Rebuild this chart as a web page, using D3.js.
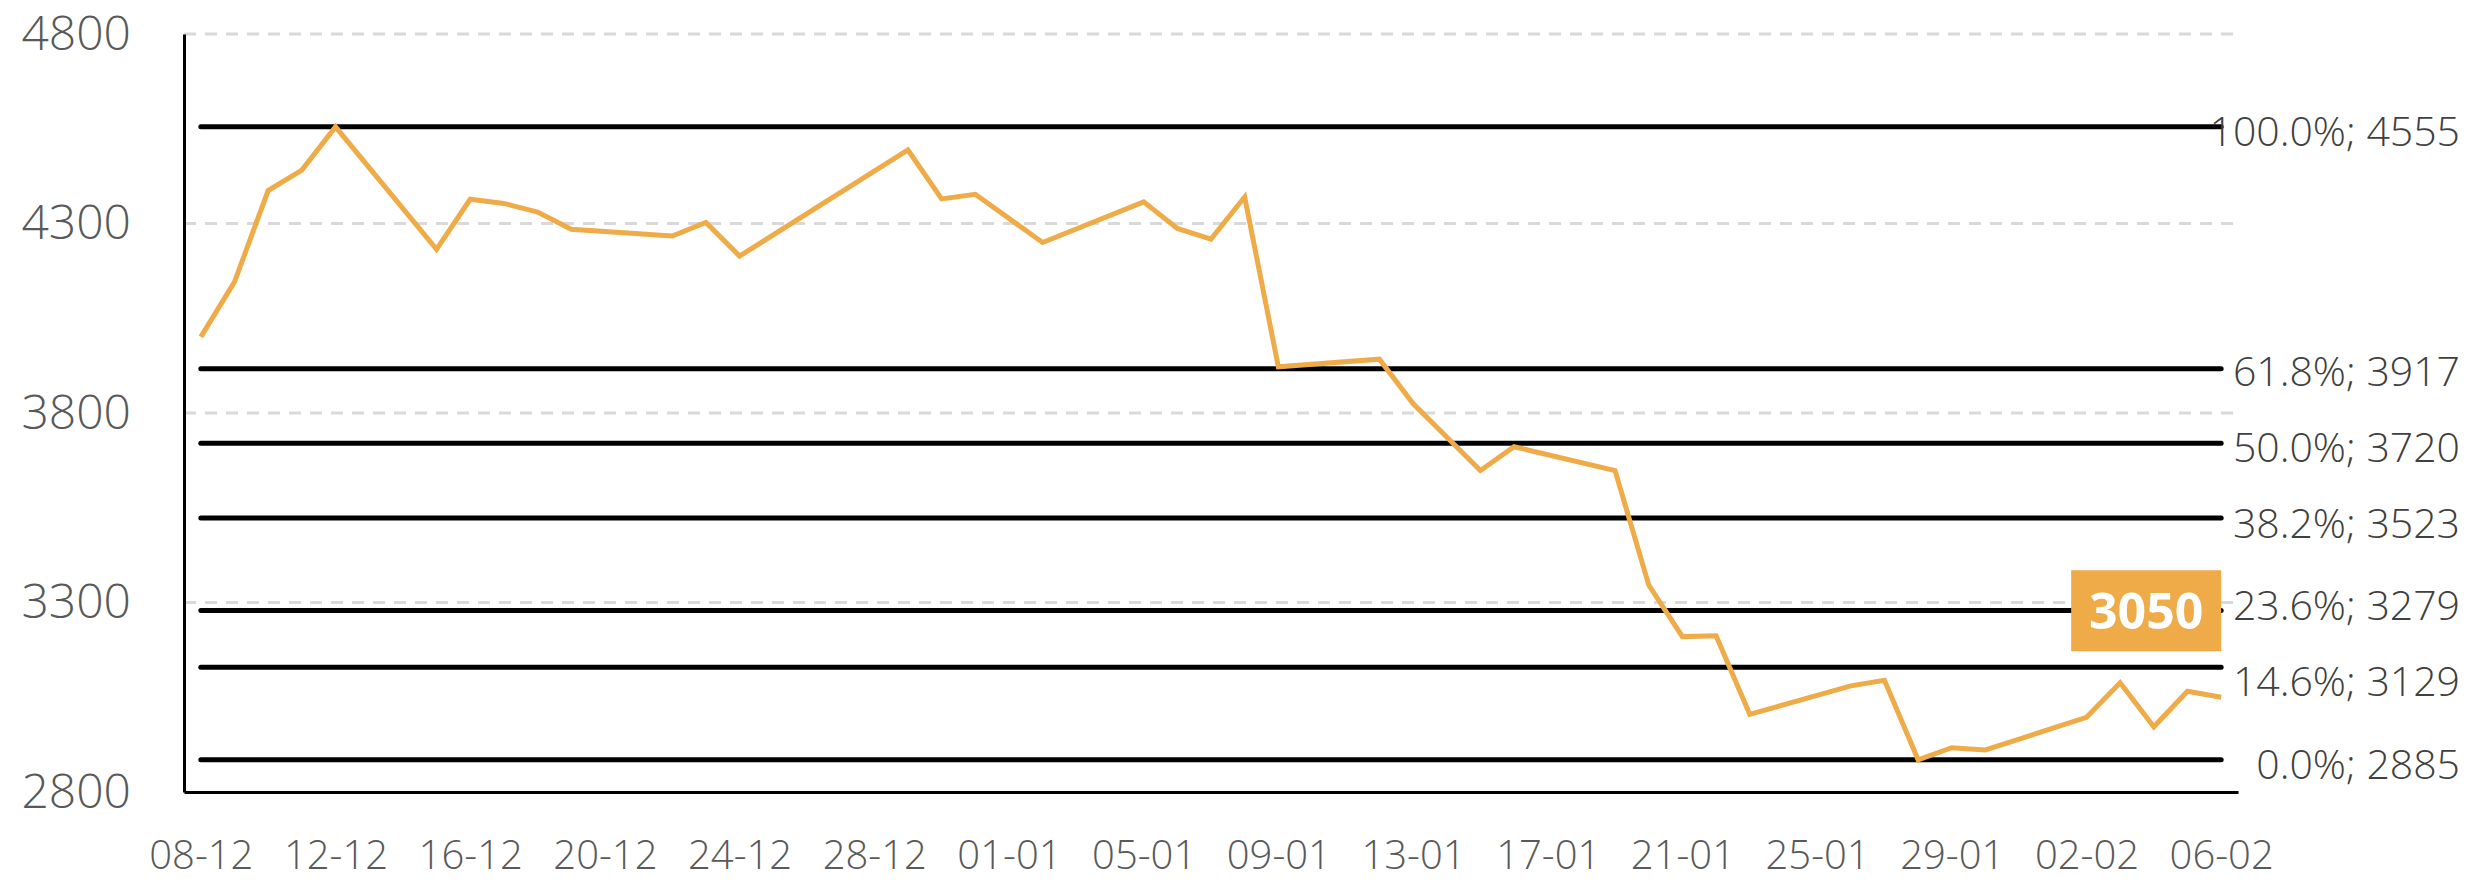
<!DOCTYPE html>
<html>
<head>
<meta charset="utf-8">
<script src="https://cdn.jsdelivr.net/npm/d3@7"></script>
<style>
  body { margin: 0; background: #fff; }
  svg text { font-family: "Open Sans", "Noto Sans", sans-serif; }
</style>
</head>
<body>
<svg id="chart" width="2476" height="887"></svg>
<script>
// price series (dd-mm, Dec 2021 -> Feb 2022)
var dates = ["08-12","09-12","10-12","11-12","12-12","15-12","16-12","17-12","18-12","19-12",
             "22-12","23-12","24-12","29-12","30-12","31-12","02-01","05-01","06-01","07-01",
             "08-01","09-01","12-01","13-01","15-01","16-01","19-01","20-01","21-01","22-01",
             "23-01","26-01","27-01","28-01","29-01","30-01","02-02","03-02","04-02","05-02","06-02"];
var prices = [4001,4146,4387,4441,4555,4232,4364,4353,4330,4285,
              4267,4303,4214,4494,4365,4377,4250,4357,4287,4259,
              4370,3922,3942,3825,3648,3711,3648,3346,3210,3212,
              3005,3080,3095,2885,2917,2911,2997,3088,2972,3066,3050];

// fibonacci retracement levels
var fibPct = ["100.0%","61.8%","50.0%","38.2%","23.6%","14.6%","0.0%"];
var fibVal = [4555,3917,3720,3523,3279,3129,2885];

var yTicks = [2800,3300,3800,4300,4800];
var lastLabel = "3050";

var parse = function(s){
    var p = s.split("-");
    var m = +p[1], y = m == 12 ? 2021 : 2022;
    return new Date(y, m-1, +p[0]);
};
var data = dates.map(function(d,i){ return {date: parse(d), price: prices[i]}; });

var svg = d3.select("#chart");
var first = data[0].date, last = data[data.length-1].date;

var x = d3.scaleTime()
    .domain([d3.timeHour.offset(first,-12), d3.timeHour.offset(last,12)])
    .range([184, 2238]);
var y = d3.scaleLinear().domain([2800,4800]).range([792,34]);

// dashed gridlines
svg.append("g").selectAll("line")
    .data(yTicks.filter(function(t){ return t > 2800; }))
    .enter().append("line")
    .attr("x1", x.range()[0]).attr("x2", 2233)
    .attr("y1", function(d){ return y(d); }).attr("y2", function(d){ return y(d); })
    .attr("stroke", "#d9d9d9").attr("stroke-width", 3)
    .attr("stroke-dasharray", "12,9");

// fib lines
svg.append("g").selectAll("line")
    .data(fibVal).enter().append("line")
    .attr("x1", x(first)).attr("x2", x(last))
    .attr("y1", function(d){ return y(d); }).attr("y2", function(d){ return y(d); })
    .attr("stroke", "#000").attr("stroke-width", 5)
    .attr("stroke-linecap", "round");

// price line
var line = d3.line()
    .x(function(d){ return x(d.date); })
    .y(function(d){ return y(d.price); });
svg.append("path")
    .datum(data)
    .attr("d", line)
    .attr("fill", "none")
    .attr("stroke", "#EEAB47")
    .attr("stroke-width", 5);

// axes
var xAxis = d3.axisBottom(x)
    .tickValues(d3.timeDay.range(first, d3.timeDay.offset(last,1), 4))
    .tickFormat(d3.timeFormat("%d-%m"))
    .tickSize(0).tickSizeOuter(0).tickPadding(49);
var gx = svg.append("g").attr("transform", "translate(0,792)").call(xAxis);
gx.select(".domain").attr("stroke", "#000").attr("stroke-width", 3);
gx.selectAll("text").attr("font-size", 40).attr("fill", "#595959")
    .attr("font-family", "Open Sans").attr("font-weight", 300);

var yAxis = d3.axisLeft(y).tickValues(yTicks)
    .tickFormat(d3.format("d"))
    .tickSize(0).tickSizeOuter(0).tickPadding(53);
var gy = svg.append("g").attr("transform", "translate(184,0)").call(yAxis);
gy.select(".domain").attr("stroke", "#000").attr("stroke-width", 3);
gy.selectAll("text").attr("font-size", 48).attr("fill", "#595959")
    .attr("font-family", "Open Sans").attr("font-weight", 300);

// fib labels, pushed apart when too close
var pos = fibVal.map(function(v){ return y(v) + 4; });
var gap = 76;
for (var k = 0; k < 3; k++) {
    for (var i = 1; i < pos.length; i++) {
        var d = pos[i] - pos[i-1];
        if (d < gap) { var s = (gap - d)/2; pos[i-1] -= s; pos[i] += s; }
    }
}
svg.append("g").selectAll("text")
    .data(fibVal).enter().append("text")
    .attr("x", 2460)
    .attr("y", function(d,i){ return pos[i]; })
    .attr("dy", "0.36em")
    .attr("text-anchor", "end")
    .attr("font-size", 41)
    .attr("font-weight", 300)
    .attr("fill", "#404040")
    .text(function(d,i){ return fibPct[i] + "; " + d; });

// last value badge
var lx = x(last), ly = y(data[data.length-1].price);
svg.append("rect")
    .attr("x", lx - 150).attr("y", ly - 127)
    .attr("width", 150).attr("height", 81)
    .attr("fill", "#EEAB47");
svg.append("text")
    .attr("x", lx - 75).attr("y", ly - 86)
    .attr("dy", "0.36em")
    .attr("text-anchor", "middle")
    .attr("font-size", 50).attr("font-weight", "bold")
    .attr("fill", "#fff")
    .text(lastLabel);
</script>
</body>
</html>
